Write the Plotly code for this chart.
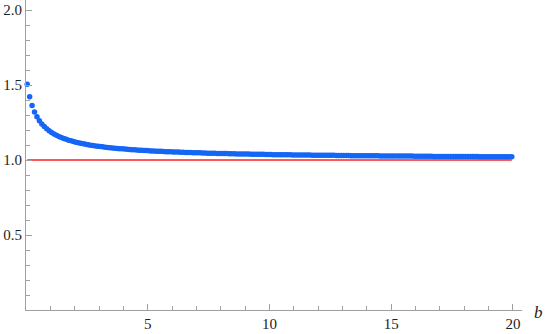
import plotly.graph_objects as go

# sampled b values (ListPlot points)
B = [
    0.05, 0.15, 0.25, 0.35, 0.45, 0.55, 0.65, 0.75, 0.85, 0.95,
    1.05, 1.15, 1.25, 1.35, 1.45, 1.55, 1.65, 1.75, 1.85, 1.95,
    2.05, 2.15, 2.25, 2.35, 2.45, 2.55, 2.65, 2.75, 2.85, 2.95,
    3.05, 3.15, 3.25, 3.35, 3.45, 3.55, 3.65, 3.75, 3.85, 3.95,
    4.05, 4.15, 4.25, 4.35, 4.45, 4.55, 4.65, 4.75, 4.85, 4.95,
    5.05, 5.15, 5.25, 5.35, 5.45, 5.55, 5.65, 5.75, 5.85, 5.95,
    6.05, 6.15, 6.25, 6.35, 6.45, 6.55, 6.65, 6.75, 6.85, 6.95,
    7.05, 7.15, 7.25, 7.35, 7.45, 7.55, 7.65, 7.75, 7.85, 7.95,
    8.05, 8.15, 8.25, 8.35, 8.45, 8.55, 8.65, 8.75, 8.85, 8.95,
    9.05, 9.15, 9.25, 9.35, 9.45, 9.55, 9.65, 9.75, 9.85, 9.95,
    10.05, 10.15, 10.25, 10.35, 10.45, 10.55, 10.65, 10.75, 10.85, 10.95,
    11.05, 11.15, 11.25, 11.35, 11.45, 11.55, 11.65, 11.75, 11.85, 11.95,
    12.05, 12.15, 12.25, 12.35, 12.45, 12.55, 12.65, 12.75, 12.85, 12.95,
    13.05, 13.15, 13.25, 13.35, 13.45, 13.55, 13.65, 13.75, 13.85, 13.95,
    14.05, 14.15, 14.25, 14.35, 14.45, 14.55, 14.65, 14.75, 14.85, 14.95,
    15.05, 15.15, 15.25, 15.35, 15.45, 15.55, 15.65, 15.75, 15.85, 15.95,
    16.05, 16.15, 16.25, 16.35, 16.45, 16.55, 16.65, 16.75, 16.85, 16.95,
    17.05, 17.15, 17.25, 17.35, 17.45, 17.55, 17.65, 17.75, 17.85, 17.95,
    18.05, 18.15, 18.25, 18.35, 18.45, 18.55, 18.65, 18.75, 18.85, 18.95,
    19.05, 19.15, 19.25, 19.35, 19.45, 19.55, 19.65, 19.75, 19.85, 19.95,
]

# ratio
RATIO = [
    1.506, 1.422, 1.364, 1.321, 1.288, 1.262, 1.241, 1.223, 1.208, 1.195,
    1.184, 1.174, 1.165, 1.157, 1.150, 1.144, 1.138, 1.132, 1.128, 1.123,
    1.119, 1.115, 1.112, 1.108, 1.105, 1.102, 1.099, 1.097, 1.094, 1.092,
    1.090, 1.088, 1.086, 1.084, 1.082, 1.081, 1.079, 1.077, 1.076, 1.075,
    1.073, 1.072, 1.071, 1.069, 1.068, 1.067, 1.066, 1.065, 1.064, 1.063,
    1.062, 1.061, 1.060, 1.059, 1.059, 1.058, 1.057, 1.056, 1.056, 1.055,
    1.054, 1.053, 1.053, 1.052, 1.052, 1.051, 1.050, 1.050, 1.049, 1.049,
    1.048, 1.048, 1.047, 1.047, 1.046, 1.046, 1.045, 1.045, 1.044, 1.044,
    1.044, 1.043, 1.043, 1.042, 1.042, 1.042, 1.041, 1.041, 1.041, 1.040,
    1.040, 1.040, 1.039, 1.039, 1.039, 1.038, 1.038, 1.038, 1.037, 1.037,
    1.037, 1.036, 1.036, 1.036, 1.036, 1.035, 1.035, 1.035, 1.035, 1.034,
    1.034, 1.034, 1.033, 1.033, 1.033, 1.033, 1.033, 1.032, 1.032, 1.032,
    1.032, 1.032, 1.031, 1.031, 1.031, 1.031, 1.031, 1.030, 1.030, 1.030,
    1.030, 1.030, 1.030, 1.029, 1.029, 1.029, 1.029, 1.029, 1.029, 1.028,
    1.028, 1.028, 1.028, 1.028, 1.028, 1.027, 1.027, 1.027, 1.027, 1.027,
    1.027, 1.027, 1.026, 1.026, 1.026, 1.026, 1.026, 1.026, 1.026, 1.025,
    1.025, 1.025, 1.025, 1.025, 1.025, 1.025, 1.025, 1.024, 1.024, 1.024,
    1.024, 1.024, 1.024, 1.024, 1.024, 1.024, 1.023, 1.023, 1.023, 1.023,
    1.023, 1.023, 1.023, 1.023, 1.023, 1.023, 1.022, 1.022, 1.022, 1.022,
    1.022, 1.022, 1.022, 1.022, 1.022, 1.022, 1.022, 1.021, 1.021, 1.021,
]

REF_LEVEL = 1.0

X_TICKS = [5, 10, 15, 20]
Y_TICKS = [0.5, 1.0, 1.5, 2.0]
Y_TICK_TEXT = ["0.5", "1.0", "1.5", "2.0"]

AXIS_GREY = "#a0a0a0"
FONT = "Liberation Serif"

fig = go.Figure()
fig.add_trace(go.Scatter(
    x=B, y=RATIO, mode="markers",
    marker=dict(size=5.5, color="#1466f5", line=dict(width=0)),
    cliponaxis=False, showlegend=False, hoverinfo="x+y",
))
fig.add_trace(go.Scatter(
    x=[B[0], B[-1]], y=[REF_LEVEL, REF_LEVEL], mode="lines",
    line=dict(color="#ff2020", width=1.5),
    cliponaxis=False, showlegend=False, hoverinfo="skip",
))

axis_common = dict(
    showgrid=False, zeroline=False,
    showline=True, linecolor=AXIS_GREY, linewidth=1,
    ticks="inside", ticklen=6, tickwidth=1, tickcolor=AXIS_GREY,
    tickfont=dict(family=FONT, size=15, color="#222"),
    tickmode="array",
)

fig.update_xaxes(
    **axis_common,
    range=[0, 20.37],
    tickvals=X_TICKS, ticktext=[str(t) for t in X_TICKS],
    minor=dict(tickmode="linear", tick0=0, dtick=1, ticks="inside",
               ticklen=4, tickcolor=AXIS_GREY, tickwidth=1),
)
fig.update_yaxes(
    **axis_common,
    range=[0, 2.067],
    tickvals=Y_TICKS, ticktext=Y_TICK_TEXT,
    minor=dict(tickmode="linear", tick0=0, dtick=0.1, ticks="inside",
               ticklen=4, tickcolor=AXIS_GREY, tickwidth=1),
)

fig.add_annotation(
    text="<i>b</i>", xref="paper", yref="paper", x=1.0, y=0.0,
    xanchor="left", yanchor="middle", xshift=10, yshift=-2,
    showarrow=False, font=dict(family=FONT, size=17, color="#222"),
)

fig.update_layout(
    width=545, height=334,
    margin=dict(l=26, r=23, t=0, b=24),
    font=dict(family=FONT, size=15, color="#222"),
    plot_bgcolor="white", paper_bgcolor="white",
)

# drop the default page margin so the figure sits at the window origin
fig.write_html(
    "out.html",
    config={"displayModeBar": False},
    post_script="document.body.style.margin = '0';",
)
